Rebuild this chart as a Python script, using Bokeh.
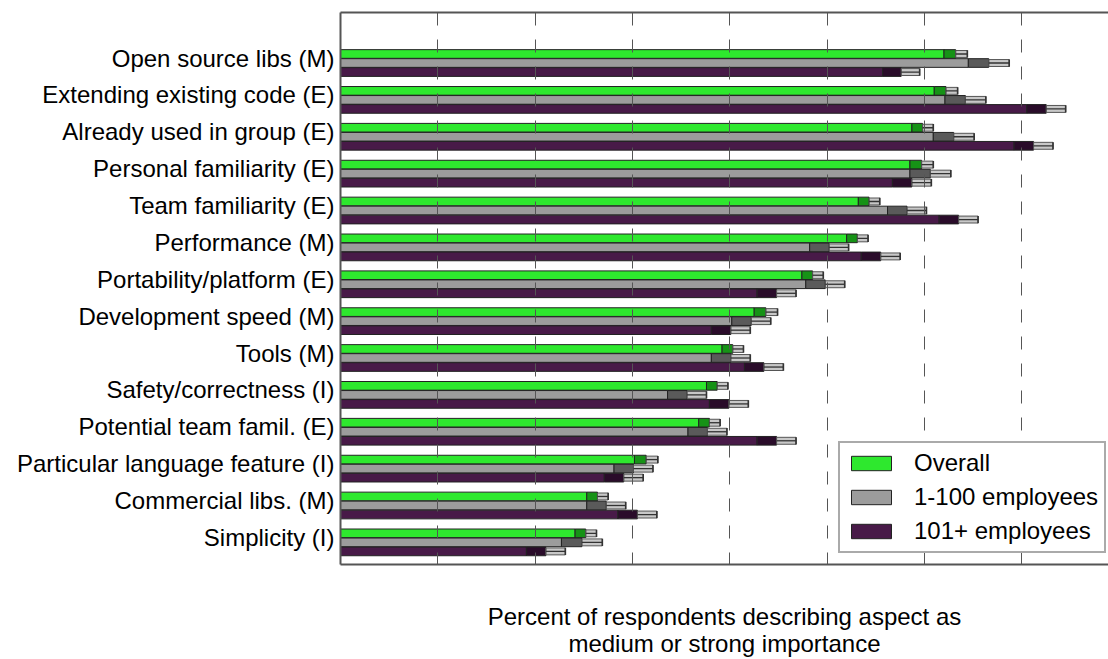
from bokeh.plotting import figure
from bokeh.models import FixedTicker, LinearAxis, Legend, LegendItem, Range1d, ColumnDataSource
from bokeh.embed import file_html
from bokeh.resources import INLINE

categories = [
    "Open source libs (M)", "Extending existing code (E)", "Already used in group (E)",
    "Personal familiarity (E)", "Team familiarity (E)", "Performance (M)",
    "Portability/platform (E)", "Development speed (M)", "Tools (M)",
    "Safety/correctness (I)", "Potential team famil. (E)",
    "Particular language feature (I)", "Commercial libs. (M)", "Simplicity (I)",
]
series_names = ["Overall", "1-100 employees", "101+ employees"]

overall = [63.2, 62.2, 59.8, 59.7, 54.3, 53.1, 48.5, 43.7, 40.3, 38.7, 37.9, 31.4, 26.4, 25.2]
overall_err = [1.2, 1.2, 1.1, 1.2, 1.1, 1.1, 1.1, 1.2, 1.1, 1.1, 1.1, 1.2, 1.1, 1.1]
small = [66.6, 64.2, 63.0, 60.6, 58.2, 50.2, 49.8, 42.2, 40.1, 35.6, 37.7, 30.1, 27.3, 24.8]
small_err = [2.1, 2.1, 2.1, 2.1, 2.0, 2.0, 2.0, 2.0, 2.0, 2.0, 2.0, 2.0, 2.0, 2.1]
large = [57.6, 72.5, 71.2, 58.7, 63.5, 55.5, 44.8, 40.1, 43.5, 39.9, 44.8, 29.1, 30.5, 21.1]
large_err = [1.9, 2.0, 2.0, 2.0, 2.0, 2.0, 2.0, 2.0, 2.0, 2.0, 2.0, 2.0, 2.0, 2.0]

FONT = "Liberation Sans"
colors = ["#2ee82e", "#9c9c9c", "#481a48"]
dark_colors = ["#169216", "#5a5a5a", "#2a0c2a"]

W, H = 1108, 659
p = figure(width=W, height=H, output_backend="svg", toolbar_location=None,
           x_range=Range1d(0, 78.9), y_range=Range1d(13.6, -1.37),
           min_border_left=340, min_border_top=12, min_border_right=0,
           min_border_bottom=94, x_axis_location=None, y_axis_location=None)
p.outline_line_color = None
p.background_fill_color = "white"

# axes
left = LinearAxis()
n = len(categories)
tick_pos = [round(i - 0.135, 4) for i in range(n)]
left.ticker = FixedTicker(ticks=tick_pos)
left.major_label_overrides = {tp: c for tp, c in zip(tick_pos, categories)}
left.major_tick_out = 0
left.major_tick_in = 0
left.minor_tick_out = 0
left.minor_tick_in = 0
left.major_label_standoff = 6
left.major_label_text_font = FONT
left.major_label_text_font_size = "24px"
left.major_label_text_color = "#000000"
left.axis_line_color = "#555555"
left.axis_line_width = 2
p.add_layout(left, "left")

xticks = [10, 20, 30, 40, 50, 60, 70]
for loc in ("above", "below"):
    ax = LinearAxis()
    ax.ticker = FixedTicker(ticks=[], minor_ticks=[])
    ax.major_tick_out = 0
    ax.major_tick_in = 0
    ax.minor_tick_out = 0
    ax.minor_tick_in = 0
    ax.major_label_standoff = 0
    ax.axis_line_color = "#555555"
    ax.axis_line_width = 2
    if loc == "below":
        ax.axis_label = "Percent of respondents describing aspect as\nmedium or strong importance"
        ax.axis_label_text_font = FONT
        ax.axis_label_text_font_size = "24px"
        ax.axis_label_text_font_style = "normal"
        ax.axis_label_text_color = "#000000"
        ax.axis_label_standoff = 38
        ax.axis_label_text_line_height = 1.0
    p.add_layout(ax, loc)

p.ygrid.visible = False
p.xgrid.ticker = FixedTicker(ticks=xticks)
p.xgrid.grid_line_color = "#555555"
p.xgrid.grid_line_dash = "13 14"
p.xgrid.grid_line_width = 1
p.xgrid.level = "guide"

bar_h = 0.235
offsets = [-0.245, 0.0, 0.245]
values = [overall, small, large]
errs = [overall_err, small_err, large_err]

legend_items = []
for k in range(3):
    ys = [i + offsets[k] for i in range(n)]
    v = values[k]
    e = errs[k]
    lo = [a - b for a, b in zip(v, e)]
    hi = [a + b for a, b in zip(v, e)]
    src = ColumnDataSource(dict(y=ys, v=v, lo=lo, hi=hi,
                                cap0=[y - bar_h * 0.42 for y in ys],
                                cap1=[y + bar_h * 0.42 for y in ys]))
    r = p.hbar(y="y", left=0, right="lo", height=bar_h, source=src,
               fill_color=colors[k], line_color="#222222", line_width=1)
    p.hbar(y="y", left="lo", right="v", height=bar_h, source=src,
           fill_color=dark_colors[k], line_color="#222222", line_width=1)
    p.hbar(y="y", left="v", right="hi", height=bar_h * 0.8, source=src,
           fill_color="#9a9a9a", fill_alpha=0.55, line_color="#555555", line_width=1)
    p.segment(x0="v", y0="y", x1="hi", y1="y", source=src, line_color="#333333", line_width=1.3)
    p.segment(x0="hi", y0="cap0", x1="hi", y1="cap1", source=src, line_color="#333333", line_width=1.6)
    legend_items.append(LegendItem(label=series_names[k], renderers=[r]))

legend = Legend(items=legend_items, location=(498, 11))
legend.label_text_font = FONT
legend.label_text_font_size = "24px"
legend.label_text_color = "#000000"
legend.glyph_width = 50
legend.glyph_height = 18
legend.label_standoff = 18
legend.padding = 6
legend.spacing = 6
legend.margin = 0
legend.border_line_color = "#555555"
legend.border_line_width = 2
legend.background_fill_color = "white"
legend.background_fill_alpha = 1.0
p.add_layout(legend)

open("out.html", "w").write(file_html(p, INLINE))
